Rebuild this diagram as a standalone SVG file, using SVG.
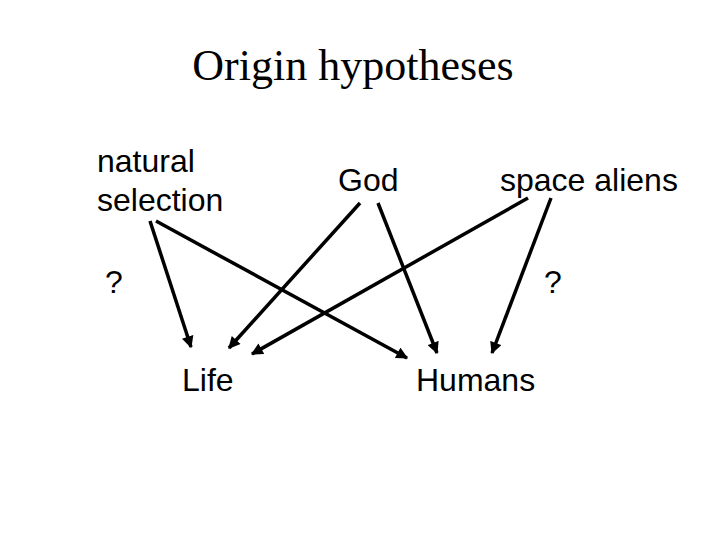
<svg xmlns="http://www.w3.org/2000/svg" width="720" height="540" viewBox="0 0 720 540">
<style>
.t{font-family:"Liberation Sans",Arial,sans-serif;font-size:32px;fill:#000}
.title{font-family:"Liberation Serif","Times New Roman",serif;font-size:44px;fill:#000}
.c line{stroke:#000;stroke-width:3.5;marker-end:url(#ah)}
</style>
<defs>
<marker id="ah" viewBox="0 0 10 10" refX="9" refY="5" markerWidth="3.6" markerHeight="3.4" orient="auto" markerUnits="strokeWidth">
<path d="M0,0 L10,5 L0,10 Z" fill="#000"/>
</marker>
</defs>
<rect width="720" height="540" fill="#fff"/>
<text class="title" x="353" y="80" text-anchor="middle">Origin hypotheses</text>
<g id="natural-selection"><text class="t" x="97" y="172">natural</text><text class="t" x="97" y="211">selection</text></g>
<g id="god"><text class="t" x="338" y="191">God</text></g>
<g id="space-aliens"><text class="t" x="500" y="191">space aliens</text></g>
<g id="q1"><text class="t" x="105" y="293">?</text></g>
<g id="q2"><text class="t" x="544" y="293">?</text></g>
<g id="life"><text class="t" x="182" y="391">Life</text></g>
<g id="humans"><text class="t" x="416" y="391">Humans</text></g>
<g class="c" id="connectors">
<line x1="150" y1="221" x2="191" y2="347"/>
<line x1="156" y1="221" x2="407" y2="358"/>
<line x1="360" y1="203" x2="229" y2="348"/>
<line x1="378" y1="203" x2="437" y2="353"/>
<line x1="528" y1="198" x2="252" y2="354"/>
<line x1="551" y1="198" x2="492" y2="353"/>
</g>
</svg>
